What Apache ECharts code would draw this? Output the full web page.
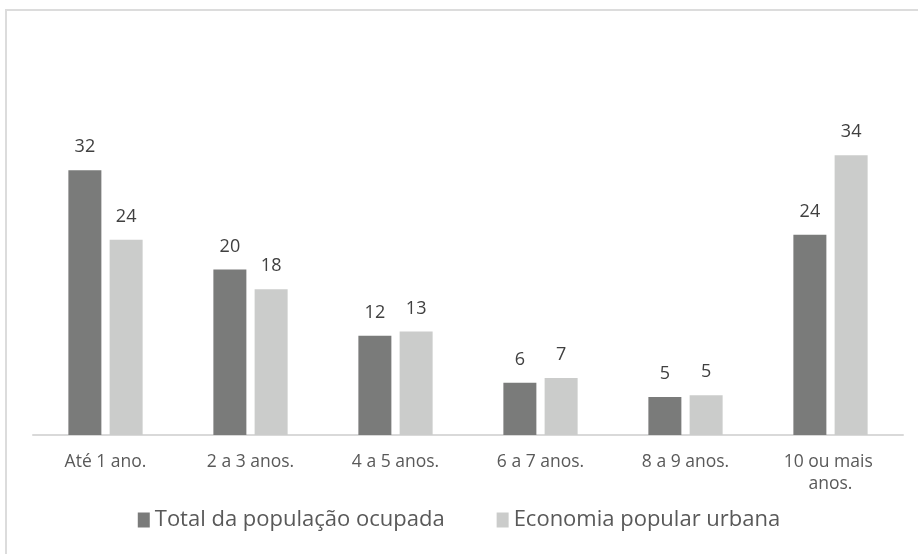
<!DOCTYPE html>
<html>
<head>
<meta charset="utf-8">
<script src="https://cdn.jsdelivr.net/npm/echarts@6/dist/echarts.min.js"></script>
<style>
	body { margin: 0; background: #fff; }
	#frame { position: absolute; left: 5px; top: 9px; width: 940px; height: 580px; border: 2px solid #dcdcdc; box-sizing: border-box; }
	#chart { position: absolute; left: 0; top: 0; width: 918px; height: 554px; }
</style>
</head>
<body>
<div id="frame"></div>
<div id="chart"></div>
<script>
	// categorias e valores (%)
	var categorias = ['Até 1 ano.', '2 a 3 anos.', '4 a 5 anos.', '6 a 7 anos.', '8 a 9 anos.', '10 ou mais anos.'];
	var totalOcupada = [32, 20, 12, 6.3, 4.6, 24.2];
	var economiaPopular = [23.6, 17.6, 12.5, 6.9, 4.8, 33.8];
	var nomesSeries = ['Total da população ocupada', 'Economia popular urbana'];

	var chart = echarts.init(document.getElementById('chart'));
	var fonte = '"Open Sans", sans-serif';

	var rotulo = {
		show: true,
		position: 'top',
		distance: 14,
		color: '#404040',
		fontSize: 18,
		fontFamily: fonte,
		formatter: function(p) {
			return Math.round(p.value)
		}
	};

	var option = {
		animation: false,
		color: ['#7a7b7a', '#cbcccb'],
		grid: {
			left: 33,
			right: 15,
			top: 104,
			bottom: 119
		},
		legend: {
			bottom: 18,
			left: 'center',
			itemWidth: 12,
			itemHeight: 15,
			itemGap: 52,
			icon: 'rect',
			textStyle: {
				color: '#595959',
				fontSize: 22,
				fontFamily: fonte
			},
			data: nomesSeries
		},
		xAxis: {
			type: 'category',
			data: categorias,
			axisLine: { lineStyle: { color: '#d9d9d9', width: 2 } },
			axisTick: { show: false },
			axisLabel: {
				color: '#595959',
				fontSize: 17.5,
				fontFamily: fonte,
				margin: 16,
				width: 100,
				overflow: 'break',
				interval: 0,
				lineHeight: 22
			}
		},
		yAxis: {
			type: 'value',
			min: 0,
			max: 40,
			show: false,
			splitLine: { show: false }
		},
		series: [{
				name: nomesSeries[0],
				type: 'bar',
				data: totalOcupada,
				barWidth: 33,
				barGap: '25%',
				label: rotulo
			},
			{
				name: nomesSeries[1],
				type: 'bar',
				data: economiaPopular,
				barWidth: 33,
				label: rotulo
			}
		]
	};
	chart.setOption(option);
</script>
</body>
</html>
